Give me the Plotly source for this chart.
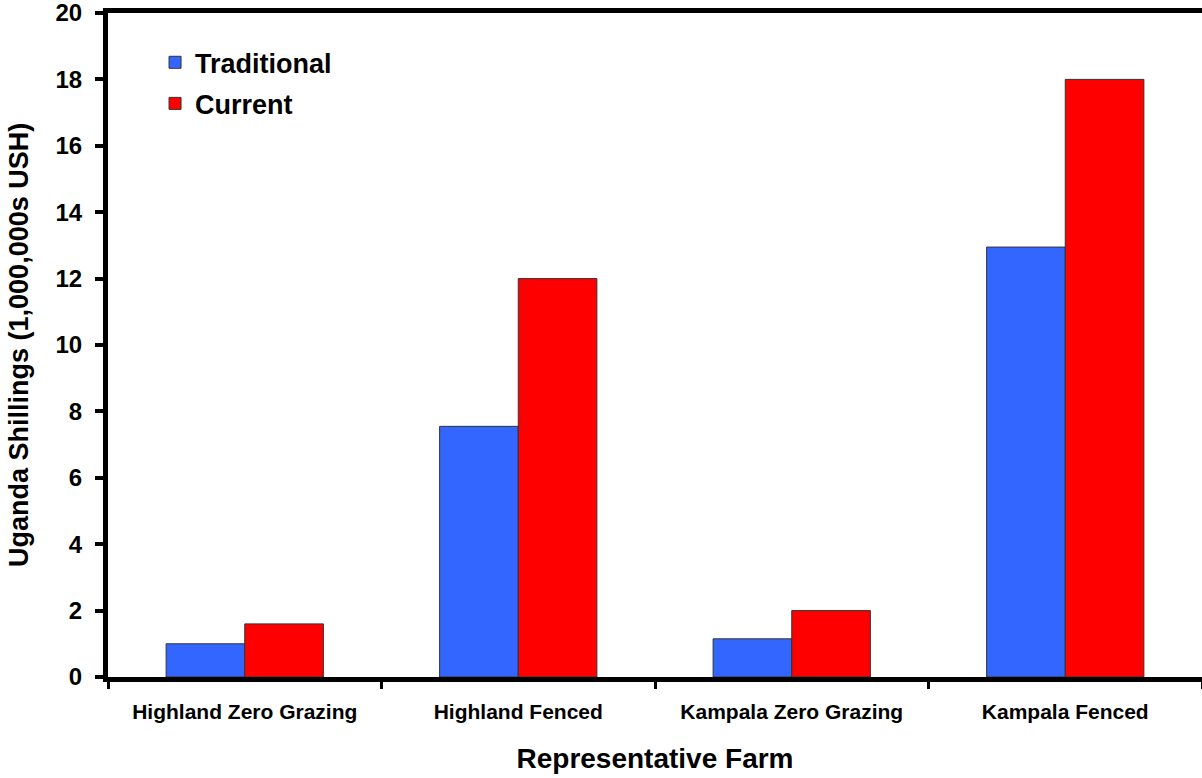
import plotly.graph_objects as go

farms = ["Highland Zero Grazing", "Highland Fenced", "Kampala Zero Grazing", "Kampala Fenced"]
traditional = [1.0, 7.55, 1.15, 12.95]
current = [1.6, 12.0, 2.0, 18.0]
y_title = "Uganda Shillings (1,000,000s USH)"

FONT = "Arial, Liberation Sans, sans-serif"

fig = go.Figure()
fig.add_trace(go.Bar(
    x=farms, y=traditional, name="Traditional", legendgroup="a",
    marker=dict(color="#3366FF", line=dict(color="#333333", width=1)),
))
fig.add_trace(go.Bar(
    x=farms, y=current, name="Current", legendgroup="b",
    marker=dict(color="#FF0000", line=dict(color="#333333", width=1)),
))

# Vertical axis title placed at a fixed offset left of the axis
fig.add_annotation(
    text=y_title, textangle=-90, showarrow=False,
    xref="paper", yref="paper", x=-0.0814, y=0.5,
    xanchor="center", yanchor="middle",
    font=dict(size=27, family=FONT, weight="bold", color="black"),
)

fig.update_layout(
    width=1202, height=778,
    margin=dict(l=108, r=0, t=13, b=101),
    paper_bgcolor="white", plot_bgcolor="white",
    barmode="group", bargap=0.425, bargroupgap=0,
    font=dict(family=FONT, color="black"),
    showlegend=True,
    legend=dict(
        x=0.043, y=0.962, xanchor="left", yanchor="top",
        font=dict(size=27, family=FONT, weight="bold"),
        bgcolor="rgba(0,0,0,0)", traceorder="grouped", tracegroupgap=3,
    ),
    xaxis=dict(
        showline=True, linecolor="black", linewidth=5, mirror=True,
        ticks="outside", tickson="boundaries", ticklen=7, tickwidth=3, tickcolor="black",
        tickfont=dict(size=21, family=FONT, weight="bold"), ticklabelstandoff=12,
        title=dict(text="Representative Farm", font=dict(size=28, family=FONT, weight="bold"), standoff=28),
        showgrid=False, range=[-0.5, 3.5],
    ),
    yaxis=dict(
        showline=True, linecolor="black", linewidth=5,
        ticks="outside", ticklen=8, tickwidth=4, tickcolor="black",
        tickfont=dict(size=24, family=FONT, weight="bold"), ticklabelstandoff=8,
        ticklabeloverflow="allow",
        range=[0, 20], dtick=2, showgrid=False, zeroline=False,
    ),
)

fig.write_html("out.html")
